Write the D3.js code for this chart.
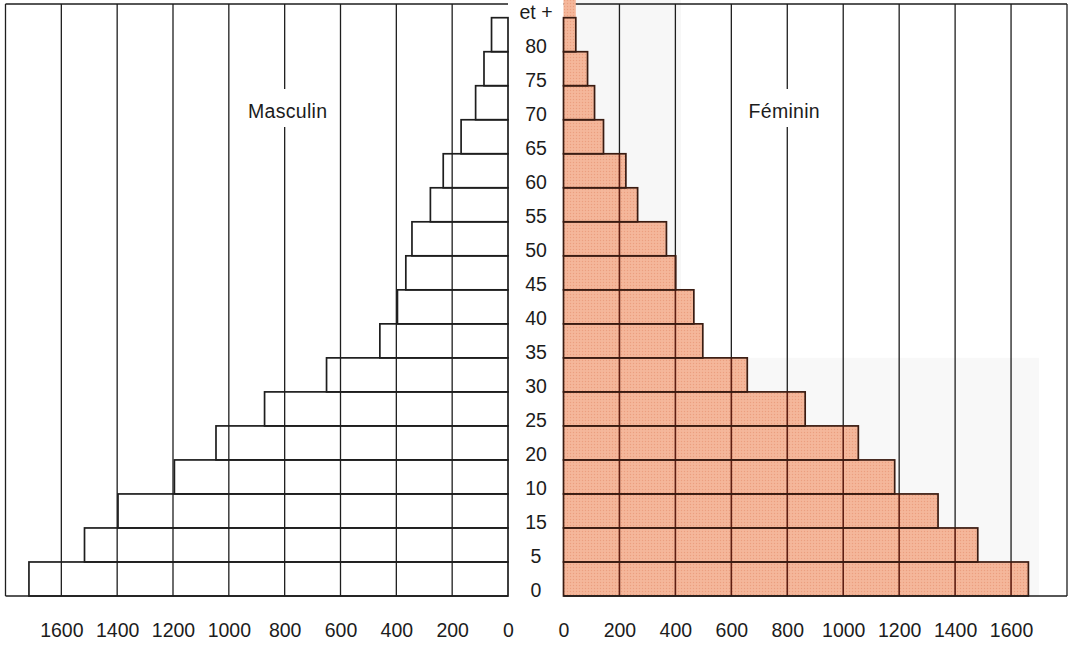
<!DOCTYPE html>
<html>
<head>
<meta charset="utf-8">
<script src="https://cdn.jsdelivr.net/npm/d3@7"></script>
<style>
  html, body { margin: 0; padding: 0; background: #ffffff; }
  svg { display: block; }
  text { font-family: "Liberation Sans", Arial, Helvetica, sans-serif; fill: #1c1c1c; }
</style>
</head>
<body>
<svg id="chart" width="1074" height="645"></svg>
<script>
// ---- data ----
// Age boundary labels, bottom to top (as printed in the original, incl. its 15/10 order)
const ageLabels = ["0", "5", "15", "10", "20", "25", "30", "35", "40", "45", "50", "55", "60", "65", "70", "75", "80", "et +"];
// One bar per band between consecutive boundaries (bottom to top)
const ageGroups = ["0", "5", "15", "10", "20", "25", "30", "35", "40", "45", "50", "55", "60", "65", "70", "75", "80 et +"];
const masculin = [1716, 1517, 1397, 1195, 1046, 872, 650, 459, 396, 366, 344, 278, 232, 168, 116, 86, 59];
const feminin  = [1662, 1481, 1339, 1184, 1054, 864, 657, 498, 466, 401, 368, 265, 223, 143, 111, 86, 44];
const tickValues = [0, 200, 400, 600, 800, 1000, 1200, 1400, 1600];
const gridValues = [200, 400, 600, 800, 1000, 1200, 1400, 1600];
const seriesNames = ["Masculin", "Féminin"];

// ---- layout ----
const svg = d3.select("#chart");
const frameTop = 4;
const xLeft = d3.scaleLinear().domain([0, 1800]).range([508, 5.5]);
const xRight = d3.scaleLinear().domain([0, 1800]).range([563.5, 1067]);
const y = d3.scaleLinear().domain([0, ageGroups.length]).range([596, 17.7]);

const ink = "#1e1e1e";
const gridW = 1.3;
const barW = 1.7;

// faint paper tint seen in the right panel of the print
svg.append("rect").attr("x", xRight(0)).attr("y", 0)
  .attr("width", xRight(420) - xRight(0)).attr("height", y(7)).attr("fill", "#f7f7f7");
svg.append("rect").attr("x", xRight(420)).attr("y", y(7))
  .attr("width", xRight(1700) - xRight(420)).attr("height", y(0) - y(7)).attr("fill", "#f8f8f8");

// pattern for the female bars (stippled salmon)
const defs = svg.append("defs");
const pat = defs.append("pattern").attr("id", "stipple")
  .attr("patternUnits", "userSpaceOnUse").attr("width", 3).attr("height", 3);
pat.append("rect").attr("width", 3).attr("height", 3).attr("fill", "#f4b497");
pat.append("rect").attr("x", 0).attr("y", 0).attr("width", 1).attr("height", 1).attr("fill", "#ea9f80");
pat.append("rect").attr("x", 1.5).attr("y", 1.5).attr("width", 1).attr("height", 1).attr("fill", "#f7c2a8");

// ---- LEFT PANEL (Masculin) ----
const gL = svg.append("g");
gL.append("line").attr("x1", xLeft(1800)).attr("x2", xLeft(1800))
  .attr("y1", frameTop).attr("y2", y(0)).attr("stroke", ink).attr("stroke-width", gridW);
gL.append("line").attr("x1", xLeft(1800)).attr("x2", xLeft(0))
  .attr("y1", frameTop).attr("y2", frameTop).attr("stroke", ink).attr("stroke-width", gridW);
gL.selectAll("line.grid").data(gridValues).join("line").attr("class", "grid")
  .attr("x1", d => xLeft(d)).attr("x2", d => xLeft(d))
  .attr("y1", frameTop).attr("y2", y(0))
  .attr("stroke", ink).attr("stroke-width", gridW);
gL.selectAll("rect.bar").data(masculin).join("rect").attr("class", "bar")
  .attr("x", d => xLeft(d)).attr("width", d => xLeft(0) - xLeft(d))
  .attr("y", (d, i) => y(i + 1)).attr("height", (d, i) => y(i) - y(i + 1))
  .attr("fill", "none").attr("stroke", ink).attr("stroke-width", barW);
gL.append("line").attr("x1", xLeft(1800)).attr("x2", xLeft(0))
  .attr("y1", y(0)).attr("y2", y(0)).attr("stroke", ink).attr("stroke-width", barW);

// ---- RIGHT PANEL (Féminin) ----
const gR = svg.append("g");
gR.append("line").attr("x1", xRight(0)).attr("x2", xRight(1800))
  .attr("y1", frameTop).attr("y2", frameTop).attr("stroke", ink).attr("stroke-width", gridW);
gR.append("line").attr("x1", xRight(1800)).attr("x2", xRight(1800))
  .attr("y1", frameTop).attr("y2", y(0)).attr("stroke", ink).attr("stroke-width", gridW);
gR.selectAll("line.grid").data(gridValues).join("line").attr("class", "grid")
  .attr("x1", d => xRight(d)).attr("x2", d => xRight(d))
  .attr("y1", frameTop).attr("y2", y(0))
  .attr("stroke", ink).attr("stroke-width", gridW);
// the top (80 et +) bar bleeds up to the edge in the print
gR.append("rect")
  .attr("x", xRight(0)).attr("width", xRight(feminin[feminin.length - 1]) - xRight(0))
  .attr("y", 0).attr("height", y(feminin.length - 1) - 0)
  .attr("fill", "url(#stipple)");
gR.selectAll("rect.fill").data(feminin).join("rect").attr("class", "fill")
  .attr("x", xRight(0)).attr("width", d => xRight(d) - xRight(0))
  .attr("y", (d, i) => y(i + 1)).attr("height", (d, i) => y(i) - y(i + 1))
  .attr("fill", "url(#stipple)");
// grid lines seen through the bars (dark maroon)
const inner = [];
feminin.forEach((v, i) => gridValues.filter(t => t < v).forEach(t => inner.push({ t, i })));
gR.selectAll("line.inner").data(inner).join("line").attr("class", "inner")
  .attr("x1", d => xRight(d.t)).attr("x2", d => xRight(d.t))
  .attr("y1", d => y(d.i + 1)).attr("y2", d => y(d.i))
  .attr("stroke", "#5e1e12").attr("stroke-width", 1.6);
gR.selectAll("rect.bar").data(feminin).join("rect").attr("class", "bar")
  .attr("x", xRight(0)).attr("width", d => xRight(d) - xRight(0))
  .attr("y", (d, i) => y(i + 1)).attr("height", (d, i) => y(i) - y(i + 1))
  .attr("fill", "none").attr("stroke", "#3a1c12").attr("stroke-width", barW);
gR.append("line").attr("x1", xRight(0)).attr("x2", xRight(1800))
  .attr("y1", y(0)).attr("y2", y(0)).attr("stroke", ink).attr("stroke-width", barW);

// ---- series titles (white knock-out over the 800 grid line) ----
const titles = [
  { name: seriesNames[0], x: xLeft(800) + 3 },
  { name: seriesNames[1], x: xRight(800) - 3 }
];
titles.forEach(t => {
  svg.append("rect").attr("x", t.x - 44).attr("y", 89).attr("width", 88).attr("height", 38).attr("fill", "#ffffff");
  svg.append("text").attr("x", t.x).attr("y", 118).attr("text-anchor", "middle")
    .style("font-size", "19.5px").style("letter-spacing", "0.3px").text(t.name);
});

// ---- age labels (centre column, at band boundaries) ----
svg.append("g").selectAll("text").data(ageLabels).join("text")
  .attr("x", 536).attr("y", (d, i) => y(i) + 1)
  .attr("text-anchor", "middle").style("font-size", "19.5px")
  .text(d => d);

// ---- bottom tick labels via d3 axes ----
const axL = svg.append("g").attr("transform", `translate(0, ${y(0) + 27})`)
  .call(d3.axisBottom(xLeft).tickValues(tickValues).tickSize(0).tickPadding(0).tickFormat(d3.format("d")));
const axR = svg.append("g").attr("transform", `translate(0, ${y(0) + 27})`)
  .call(d3.axisBottom(xRight).tickValues(tickValues).tickSize(0).tickPadding(0).tickFormat(d3.format("d")));
[axL, axR].forEach(ax => {
  ax.select(".domain").remove();
  ax.selectAll("text").style("font-size", "19.5px")
    .style("font-family", "'Liberation Sans', Arial, sans-serif").attr("fill", "#1c1c1c");
});
</script>
</body>
</html>
